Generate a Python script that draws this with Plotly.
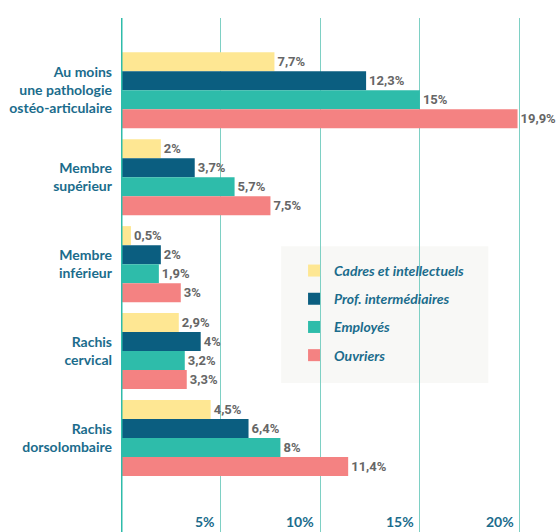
import plotly.graph_objects as go

categories = ["Au moins<br>une pathologie<br>ostéo-articulaire", "Membre<br>supérieur", "Membre<br>inférieur", "Rachis<br>cervical", "Rachis<br>dorsolombaire"]
series_names = ["Cadres et intellectuels", "Prof. intermédiaires", "Employés", "Ouvriers"]
cadres = [7.7, 2, 0.5, 2.9, 4.5]
prof_inter = [12.3, 3.7, 2, 4, 6.4]
employes = [15, 5.7, 1.9, 3.2, 8]
ouvriers = [19.9, 7.5, 3, 3.3, 11.4]
tick_values = [5, 10, 15, 20]
tick_labels = ["5%", "10%", "15%", "20%"]

colors = ["#FEE793", "#0B5E80", "#2EBCAA", "#F48282"]
label_color = "#1B6C8C"

def fmt(v):
    s = ("%g" % v).replace(".", ",")
    return s + "%"

fig = go.Figure()
for i, (name, vals) in enumerate(zip(series_names, [cadres, prof_inter, employes, ouvriers])):
    fig.add_trace(go.Bar(
        y=categories, x=vals, name=name, orientation="h",
        marker=dict(color=colors[i], line=dict(width=0)),
        text=[fmt(v) for v in vals], textposition="outside",
        textfont=dict(family="Liberation Sans Narrow, Roboto, Arial", size=13, color="#666666", weight="bold"),
        cliponaxis=False, legendgroup="g%d" % i,
    ))

annotations = []
for v, t in zip(tick_values, tick_labels):
    annotations.append(dict(x=v, y=0, xref="x", yref="paper", text=t, showarrow=False,
                            xanchor="right", yanchor="bottom", xshift=-4, yshift=0,
                            font=dict(family="Lato", size=14, color=label_color, weight="bold")))

fig.update_layout(
    width=558, height=532,
    margin=dict(l=121, r=0, t=18, b=0, autoexpand=False),
    paper_bgcolor="white", plot_bgcolor="white",
    barmode="group", bargap=0.126, bargroupgap=0,
    xaxis=dict(range=[0, 21.93], dtick=5, tick0=0, showgrid=True, gridcolor="#7ED0C4", gridwidth=1,
               zeroline=False, showline=False, showticklabels=False, fixedrange=True, automargin=False),
    yaxis=dict(range=[5.08, -0.83], showgrid=False, zeroline=False, ticks="", ticklen=0,
               ticklabelstandoff=8, automargin=False,
               tickfont=dict(family="Lato", size=14, color=label_color, weight="bold"),
               showline=False),
    shapes=[
        dict(type="line", xref="x", yref="paper", x0=0, x1=0, y0=0, y1=1,
             line=dict(color="#2EBCAA", width=3), layer="above"),
        dict(type="rect", xref="paper", yref="paper", x0=0.3665, x1=0.8405, y0=0.290, y1=0.556,
             fillcolor="#F8F8F6", line=dict(width=0), layer="below"),
    ],
    legend=dict(x=0.396, y=0.539, xanchor="left", yanchor="top", bgcolor="rgba(0,0,0,0)",
                font=dict(family="Lato", size=14, color=label_color, style="italic", weight="bold"),
                tracegroupgap=7, traceorder="grouped"),
    annotations=annotations,
    showlegend=True,
)

fig.write_html("out.html", config={"displayModeBar": False},
               post_script="document.body.style.margin='0';document.body.style.padding='0';")
